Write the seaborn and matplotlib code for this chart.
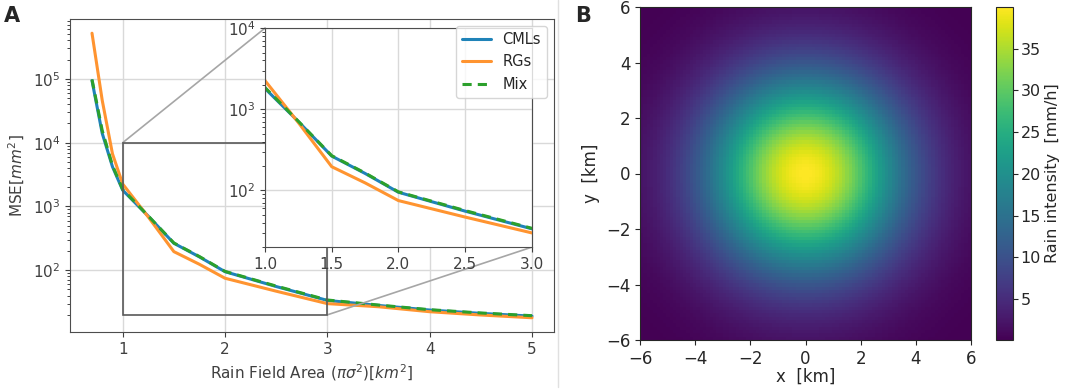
import numpy as np
import pandas as pd
import seaborn as sns
import matplotlib.pyplot as plt
from matplotlib.lines import Line2D

# panel A: MSE vs rain field area
area = [0.7, 0.8, 0.9, 1.0, 1.25, 1.5, 1.75, 2.0, 2.5, 3.0, 3.5, 4.0, 4.5, 5.0]
mse_cml = [9.4e4, 1.4e4, 4.2e3, 1.8e3, 705, 265, 162, 95, 55.6, 33.7, 28.1, 23.8, 21.1, 19.1]
mse_rg = [5.2e5, 4.6e4, 6.7e3, 2.25e3, 684, 196, 124, 75, 47, 30, 26.8, 22.4, 19.9, 18.0]
mse_mix = [9.8e4, 1.55e4, 4.4e3, 1.85e3, 710, 268, 164, 96, 56.5, 34.2, 28.5, 24.1, 21.4, 19.4]
sources = ["CMLs", "RGs", "Mix"]

# panel B: gaussian rain cell
peak_intensity = 40.0
cell_sigma = 2.5
n_cells = 100
extent_km = 6

df = pd.DataFrame({
    "area": area * 3,
    "mse": mse_cml + mse_rg + mse_mix,
    "source": ["CMLs"] * len(area) + ["RGs"] * len(area) + ["Mix"] * len(area),
})

sns.set_style("ticks")
plt.rcParams["font.family"] = ["DejaVu Sans"]
palette = {"CMLs": "#1f83b8", "RGs": "#ff9430", "Mix": "#2ca02c"}
dashes = {"CMLs": "", "RGs": "", "Mix": (3, 2)}

fig = plt.figure(figsize=(10.65, 3.89), dpi=100)
W, H = 1065, 389

def px_axes(left, top, right, bottom):
    return fig.add_axes([left / W, 1 - bottom / H, (right - left) / W, (bottom - top) / H])

# ---- panel A
ax = px_axes(70, 19, 554, 332)
sns.lineplot(data=df, x="area", y="mse", hue="source", style="source",
             palette=palette, dashes=dashes, hue_order=sources, style_order=sources,
             lw=2.2, ax=ax)
ax.set_yscale("log")
ax.set_xticks([1, 2, 3, 4, 5])
ax.grid(True, color="0.85", lw=1)
ax.set_xlabel("Rain Field Area ($\\pi\\sigma^2$)[$km^2$]", fontsize=11, color="0.25")
ax.set_ylabel("MSE[$mm^2$]", fontsize=11, color="0.25")
ax.tick_params(labelsize=11, colors="0.25")
for s in ax.spines.values():
    s.set_color("0.3")

axins = ax.inset_axes([0.403, 0.271, 0.551, 0.70])
sns.lineplot(data=df, x="area", y="mse", hue="source", style="source",
             palette=palette, dashes=dashes, hue_order=sources, style_order=sources,
             lw=2.2, ax=axins, legend=False)
axins.set_yscale("log")
axins.set_xlim(1.0, 3.0)
axins.set_ylim(20, 1e4)
axins.set_xticks([1.0, 1.5, 2.0, 2.5, 3.0])
axins.grid(True, color="0.85", lw=1)
axins.set_xlabel("")
axins.set_ylabel("")
axins.tick_params(labelsize=11, colors="0.25")
for s in axins.spines.values():
    s.set_color("0.3")

ind = ax.indicate_inset_zoom(axins, edgecolor="0.35", alpha=1, lw=1.2)
for c in ind.connectors:
    c.set_color("0.65")
    c.set_linewidth(1.2)

leg = ax.legend(loc="upper right", fontsize=10.5)
leg.set_title(None)

fig.text(0.004, 0.985, "A", fontsize=15, fontweight="bold", va="top")
# faint border of the left panel
fig.add_artist(Line2D([558 / W, 558 / W], [1 - 387 / H, 1], color="0.88", lw=1))

# ---- panel B
g = np.linspace(-extent_km, extent_km, n_cells)
xx, yy = np.meshgrid(g, g)
field = peak_intensity * np.exp(-(xx ** 2 + yy ** 2) / (2 * cell_sigma ** 2))

axb = px_axes(640, 7, 971, 340)
im = axb.imshow(field, origin="lower", extent=[-extent_km, extent_km, -extent_km, extent_km],
                cmap="viridis", interpolation="nearest", aspect="auto")
axb.set_xticks(range(-6, 7, 2))
axb.set_yticks(range(-6, 7, 2))
axb.set_xlabel("x  [km]", fontsize=12, labelpad=0)
axb.set_ylabel("y  [km]", fontsize=12)
axb.tick_params(labelsize=12)

cax = px_axes(996, 7, 1013, 340)
cb = fig.colorbar(im, cax=cax)
cb.set_ticks([5, 10, 15, 20, 25, 30, 35])
cb.ax.tick_params(labelsize=11.5, pad=2)
cb.set_label("Rain intensity  [mm/h]", fontsize=11.5, labelpad=3)

fig.text(0.54, 0.985, "B", fontsize=15, fontweight="bold", va="top")

fig.savefig("out.png", dpi=100)
